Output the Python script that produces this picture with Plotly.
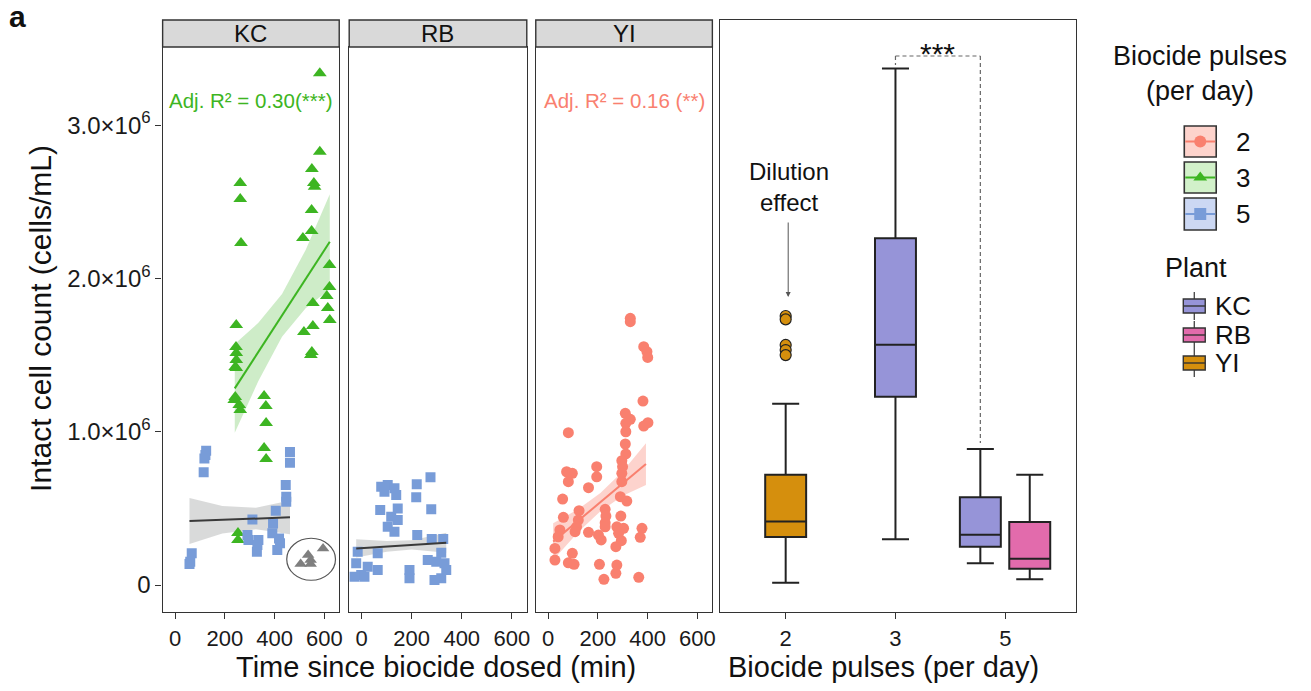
import plotly.graph_objects as go

W, H = 1311, 691
FONT = "Liberation Sans, Arial, sans-serif"

# ---------------- data (cell counts in 10^6 cells/mL, time in min) ----------------
kc3_time = [582, 582, 550, 262, 558, 561, 262, 549, 549, 514, 265, 621, 621, 610, 614, 622,
            554, 554, 518, 550, 546, 246, 245, 246, 246, 242, 246, 242, 238, 258, 262, 358,
            365, 366, 358, 366, 253, 253]
kc3_count = [3.338, 2.826, 2.714, 2.622, 2.622, 2.598, 2.518, 2.446, 2.309, 2.264, 2.231, 2.087,
             1.944, 1.885, 1.807, 1.729, 1.840, 1.690, 1.650, 1.520, 1.500, 1.696, 1.553, 1.513,
             1.468, 1.422, 1.416, 1.226, 1.207, 1.174, 1.142, 1.233, 1.168, 1.057, 0.894, 0.822,
             0.339, 0.294]

kc5_time = [125, 122, 118, 115, 462, 462, 445, 447, 447, 405, 311, 394, 391, 418, 422, 411,
            291, 295, 335, 331, 329, 67, 61, 58]
kc5_count = [0.876, 0.848, 0.826, 0.735, 0.868, 0.798, 0.652, 0.576, 0.543, 0.485, 0.428, 0.402,
             0.337, 0.304, 0.272, 0.228, 0.326, 0.294, 0.294, 0.261, 0.217, 0.207, 0.152, 0.137]

kc_excl_time = [595, 535, 545, 505, 545]
kc_excl_count = [0.239, 0.196, 0.163, 0.137, 0.137]

rb5_time = [275, 220, 78, 104, 131, 91, 138, 218, 74, 144, 278, 118, 144, 104, 131, 222, 280,
            326, -16, 64, 318, 264, 298, 331, -22, 24, 64, -2, 191, 191, 338, 318, 291, 11, -29]
rb5_count = [0.703, 0.657, 0.641, 0.652, 0.631, 0.609, 0.587, 0.572, 0.489, 0.500, 0.494, 0.446,
             0.424, 0.380, 0.348, 0.326, 0.300, 0.300, 0.217, 0.207, 0.211, 0.163, 0.152, 0.142,
             0.142, 0.119, 0.098, 0.065, 0.098, 0.044, 0.098, 0.044, 0.033, 0.054, 0.054]

yi2_time = [330, 330, 384, 397, 400, 381, 81, 310, 330, 312, 312, 384, 401, 310, 312, 296, 299,
            195, 195, 74, 97, 81, 162, 296, 296, 58, 290, 316, 124, 61, 229, 232, 229, 121, 114,
            292, 276, 303, 47, 40, 108, 162, 202, 213, 283, 294, 272, 377, 370, 27, 27, 97, 81,
            104, 206, 276, 272, 224, 364, 229]
yi2_count = [1.740, 1.718, 1.555, 1.522, 1.485, 1.200, 0.994, 1.120, 1.081, 1.055, 1.000, 1.037,
             1.059, 0.920, 0.855, 0.811, 0.772, 0.772, 0.706, 0.739, 0.729, 0.674, 0.635, 0.729,
             0.674, 0.561, 0.576, 0.548, 0.485, 0.442, 0.494, 0.450, 0.406, 0.424, 0.380, 0.450,
             0.380, 0.370, 0.359, 0.315, 0.348, 0.344, 0.326, 0.294, 0.337, 0.289, 0.250, 0.370,
             0.311, 0.239, 0.163, 0.207, 0.145, 0.135, 0.135, 0.130, 0.076, 0.037, 0.050, 0.380]

# linear fits with 95% CI
kc3_fit_x = [240, 335, 430, 525, 622]
kc3_fit_y = [1.283, 1.521, 1.759, 1.996, 2.239]
kc3_ci_lo = [0.993, 1.331, 1.619, 1.806, 1.929]
kc3_ci_hi = [1.573, 1.711, 1.899, 2.186, 2.549]

kc5_fit_x = [58, 190, 325, 462]
kc5_fit_y = [0.4175, 0.4254, 0.4334, 0.4416]
kc5_ci_lo = [0.2675, 0.3354, 0.3634, 0.3316]
kc5_ci_hi = [0.5675, 0.5154, 0.5034, 0.5516]

rb5_fit_x = [-22, 100, 200, 338]
rb5_fit_y = [0.239, 0.2515, 0.2618, 0.276]
rb5_ci_lo = [0.179, 0.2165, 0.2318, 0.211]
rb5_ci_hi = [0.299, 0.2865, 0.2918, 0.341]

yi2_fit_x = [20, 120, 210, 300, 393]
yi2_fit_y = [0.283, 0.419, 0.541, 0.663, 0.789]
yi2_ci_lo = [0.163, 0.344, 0.481, 0.583, 0.653]
yi2_ci_hi = [0.403, 0.494, 0.601, 0.743, 0.925]

r2_labels = {"KC": "Adj. R² = 0.30(***)", "YI": "Adj. R² = 0.16 (**)"}

# box plot summary stats
box_plant = ["YI", "KC", "KC", "RB"]
box_pulses = ["2", "3", "5", "5"]
box_pos = [0.0, 1.0, 1.773, 2.223]
box_q1 = [0.313, 1.228, 0.250, 0.106]
box_median = [0.415, 1.568, 0.328, 0.172]
box_q3 = [0.720, 2.262, 0.572, 0.411]
box_low = [0.015, 0.298, 0.142, 0.037]
box_high = [1.183, 3.370, 0.887, 0.720]
yi_outliers = [1.755, 1.733, 1.566, 1.533, 1.500]

pulse_tick_labels = ["2", "3", "5"]
time_ticks = [0, 200, 400, 600]
count_ticks = [0, 1, 2, 3]
count_tick_text = ["0", "1.0×10<sup>6</sup>", "2.0×10<sup>6</sup>", "3.0×10<sup>6</sup>"]

# ---------------- styling ----------------
GREEN = "#3DB522"
GREEN_BAND = "rgba(61,181,34,0.25)"
BLUE = "#789CD8"
SALMON = "#F9806F"
SALMON_BAND = "rgba(249,128,111,0.35)"
GREY_BAND = "rgba(170,172,172,0.45)"
PLANT_COL = {"KC": "#9694D8", "RB": "#E26BAC", "YI": "#D58F0D"}
EDGE = "#222222"
TXT = "#111111"


def px(x):
    return x / W


def py(y):
    return 1 - y / H


fig = go.Figure()

panel_x = {"KC": (163, 340), "RB": (350, 528), "YI": (537, 714)}
axis_ids = {"KC": ("x", "y"), "RB": ("x2", "y2"), "YI": ("x3", "y3")}


def band(fx, lo, hi, color, ax):
    fig.add_trace(go.Scatter(x=fx + fx[::-1], y=hi + lo[::-1], fill="toself", fillcolor=color,
                             line=dict(width=0), mode="lines", hoverinfo="skip",
                             showlegend=False, xaxis=ax[0], yaxis=ax[1]))


def fitline(fx, fy, color, ax):
    fig.add_trace(go.Scatter(x=[fx[0], fx[-1]], y=[fy[0], fy[-1]], mode="lines",
                             line=dict(color=color, width=2), showlegend=False,
                             xaxis=ax[0], yaxis=ax[1]))


def pts(x, y, sym, color, size, ax):
    fig.add_trace(go.Scatter(x=x, y=y, mode="markers",
                             marker=dict(symbol=sym, color=color, size=size, line=dict(width=0)),
                             showlegend=False, xaxis=ax[0], yaxis=ax[1]))


# KC panel
ax = axis_ids["KC"]
band(kc3_fit_x, kc3_ci_lo, kc3_ci_hi, GREEN_BAND, ax)
band(kc5_fit_x, kc5_ci_lo, kc5_ci_hi, GREY_BAND, ax)
pts(kc3_time, kc3_count, "triangle-up", GREEN, 12, ax)
pts(kc5_time, kc5_count, "square", BLUE, 10, ax)
pts(kc_excl_time, kc_excl_count, "triangle-up", "#7F7F7F", 11, ax)
fitline(kc3_fit_x, kc3_fit_y, GREEN, ax)
fitline(kc5_fit_x, kc5_fit_y, "#3a3a3a", ax)

# RB panel
ax = axis_ids["RB"]
band(rb5_fit_x, rb5_ci_lo, rb5_ci_hi, GREY_BAND, ax)
pts(rb5_time, rb5_count, "square", BLUE, 10, ax)
fitline(rb5_fit_x, rb5_fit_y, "#3a3a3a", ax)

# YI panel
ax = axis_ids["YI"]
band(yi2_fit_x, yi2_ci_lo, yi2_ci_hi, SALMON_BAND, ax)
pts(yi2_time, yi2_count, "circle", SALMON, 11, ax)
fitline(yi2_fit_x, yi2_fit_y, SALMON, ax)

# Box panel
for i in range(len(box_pos)):
    fig.add_trace(go.Box(x=[box_pos[i]], q1=[box_q1[i]], median=[box_median[i]], q3=[box_q3[i]],
                         lowerfence=[box_low[i]], upperfence=[box_high[i]], width=0.373,
                         whiskerwidth=0.66, fillcolor=PLANT_COL[box_plant[i]],
                         line=dict(color=EDGE, width=2), boxpoints=False, showlegend=False,
                         name=box_plant[i] + " " + box_pulses[i], xaxis="x4", yaxis="y4"))
fig.add_trace(go.Scatter(x=[box_pos[0]] * len(yi_outliers), y=yi_outliers, mode="markers",
                         marker=dict(color=PLANT_COL["YI"], size=11, line=dict(color=EDGE, width=1.2)),
                         showlegend=False, xaxis="x4", yaxis="y4"))

# legend markers on an overlay pixel axis
leg_keys_y = [141.5, 177.5, 214]
leg_sym = ["circle", "triangle-up", "square"]
leg_col = [SALMON, GREEN, BLUE]
leg_fill = ["#FDD3CC", "#D2F1CA", "#CCD8F3"]
for k in range(3):
    fig.add_trace(go.Scatter(x=[1188, 1218], y=[leg_keys_y[k]] * 2, mode="lines",
                             line=dict(color=leg_col[k], width=2), showlegend=False,
                             xaxis="x5", yaxis="y5", hoverinfo="skip"))
    fig.add_trace(go.Scatter(x=[1203], y=[leg_keys_y[k]], mode="markers",
                             marker=dict(symbol=leg_sym[k], color=leg_col[k], size=12),
                             showlegend=False, xaxis="x5", yaxis="y5", hoverinfo="skip"))

# ---------------- axes ----------------
line_style = dict(showline=True, mirror=True, linecolor="#333333", linewidth=1.4,
                  showgrid=False, zeroline=False)
tickfont = dict(family=FONT, size=22, color="#1a1a1a")
layout = {}
for i, key in enumerate(["KC", "RB", "YI"]):
    n = "" if i == 0 else str(i + 1)
    x0, x1 = panel_x[key]
    layout["xaxis" + n] = dict(domain=[px(x0), px(x1)], range=[-50, 660], tickvals=time_ticks,
                               ticks="outside", ticklen=6, tickcolor="#333333", tickwidth=1.3,
                               tickfont=tickfont, anchor="y" + n, **line_style)
    layout["yaxis" + n] = dict(domain=[py(612), py(47)], range=[-0.176, 3.51], anchor="x" + n,
                               tickvals=count_ticks, ticktext=count_tick_text,
                               ticks="outside" if i == 0 else "", ticklen=6,
                               tickcolor="#333333", tickwidth=1.3,
                               showticklabels=(i == 0),
                               tickfont=dict(family=FONT, size=24, color="#1a1a1a"),
                               **line_style)

layout["xaxis4"] = dict(domain=[px(722), px(1078)], range=[-0.595, 2.64], tickvals=[0, 1, 2],
                        ticktext=pulse_tick_labels, ticks="outside", ticklen=6,
                        tickcolor="#333333", tickwidth=1.3, tickfont=tickfont, anchor="y4",
                        **line_style)
layout["yaxis4"] = dict(domain=[py(612), py(20)], range=[-0.176, 3.686], anchor="x4",
                        showticklabels=False, ticks="", **line_style)
layout["xaxis5"] = dict(domain=[0, 1], range=[0, W], visible=False, anchor="y5")
layout["yaxis5"] = dict(domain=[0, 1], range=[H, 0], visible=False, anchor="x5")

shapes = []
annotations = []


def note(text, x, y, size, color=TXT, xanchor="center", **kw):
    annotations.append(dict(text=text, x=px(x), y=py(y), xref="paper", yref="paper",
                            showarrow=False, xanchor=xanchor, yanchor="middle",
                            font=dict(family=FONT, size=size, color=color), **kw))


# strips
for key in ["KC", "RB", "YI"]:
    x0, x1 = panel_x[key]
    shapes.append(dict(type="rect", xref="paper", yref="paper", x0=px(x0), x1=px(x1),
                       y0=py(47), y1=py(20), fillcolor="#D9D9D9",
                       line=dict(color="#333333", width=1.4), layer="above"))
    note(key, (x0 + x1) / 2, 33.5, 24)

# R2 labels
note(r2_labels["KC"], 251.5, 100, 20.5, GREEN)
note(r2_labels["YI"], 626, 100, 20.5, SALMON)

# circled excluded points
shapes.append(dict(type="circle", xref="x", yref="y", x0=449, x1=645, y0=0.031, y1=0.305,
                   line=dict(color="#555555", width=1.2)))

# significance bracket
dash = dict(color="#666666", width=1.2, dash="4px,3px")
shapes.append(dict(type="line", xref="x4", yref="y4", x0=1.0, x1=1.773, y0=3.451, y1=3.451,
                   line=dash))
shapes.append(dict(type="line", xref="x4", yref="y4", x0=1.0, x1=1.0, y0=3.451, y1=3.392,
                   line=dash))
shapes.append(dict(type="line", xref="x4", yref="y4", x0=1.773, x1=1.773, y0=3.451, y1=0.926,
                   line=dash))
annotations.append(dict(text="***", x=1.386, y=3.47, xref="x4", yref="y4", showarrow=False,
                        xanchor="center", yanchor="middle",
                        font=dict(family=FONT, size=30, color=TXT)))

# dilution effect
note("Dilution<br>effect", 791, 187, 24, align="center")
annotations.append(dict(text="", x=790, y=297, ax=790, ay=221, xref="x5",
                        yref="y5", axref="x5", ayref="y5", showarrow=True,
                        arrowhead=2, arrowsize=1, arrowwidth=1, arrowcolor="#555555"))

# axis titles
note("Time since biocide dosed (min)", 437, 667, 29)
note("Biocide pulses (per day)", 886, 667, 29)
note("Intact cell count (cells/mL)", 40, 318, 30, textangle=-90)
note("<b>a</b>", 18, 17, 30)

# legend: biocide pulses
note("Biocide pulses<br>(per day)", 1203, 73, 27, align="center")
leg_box_y = [(126, 157), (162, 193), (198, 230)]
for k in range(3):
    y0, y1 = leg_box_y[k]
    shapes.append(dict(type="rect", xref="paper", yref="paper", x0=px(1187), x1=px(1219),
                       y0=py(y1), y1=py(y0), fillcolor=leg_fill[k],
                       line=dict(color="#333333", width=1.6), layer="below"))
    note(pulse_tick_labels[k], 1237, leg_keys_y[k], 26, xanchor="left")

# legend: plant
note("Plant", 1166, 268, 27, xanchor="left")
plant_keys = ["KC", "RB", "YI"]
plant_key_y = [306, 335, 363]
for k, pl in enumerate(plant_keys):
    yc = plant_key_y[k]
    shapes.append(dict(type="line", xref="paper", yref="paper", x0=px(1197), x1=px(1197),
                       y0=py(yc + 14), y1=py(yc - 14), line=dict(color="#333333", width=1.2)))
    shapes.append(dict(type="rect", xref="paper", yref="paper", x0=px(1186), x1=px(1208),
                       y0=py(yc + 7), y1=py(yc - 7), fillcolor=PLANT_COL[pl],
                       line=dict(color="#333333", width=1.4)))
    shapes.append(dict(type="line", xref="paper", yref="paper", x0=px(1186), x1=px(1208),
                       y0=py(yc), y1=py(yc), line=dict(color="#333333", width=1.4)))
    note(pl, 1216, yc, 26, xanchor="left")

fig.update_layout(width=W, height=H, margin=dict(l=0, r=0, t=0, b=0), paper_bgcolor="white",
                  plot_bgcolor="rgba(0,0,0,0)", showlegend=False, boxmode="overlay",
                  font=dict(family=FONT), shapes=shapes, annotations=annotations, **layout)

fig.write_html("out.html", config={"displayModeBar": False},
               post_script="document.body.style.margin='0px';")
